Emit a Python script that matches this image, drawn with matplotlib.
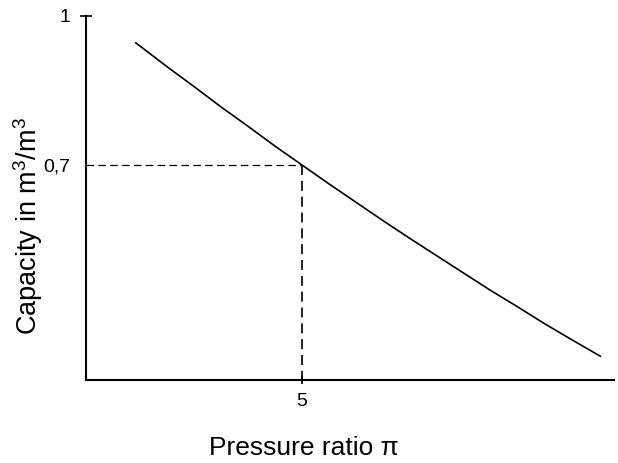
import matplotlib
matplotlib.use("Agg")
import matplotlib.pyplot as plt

# Data
pressure_ratio = [1.91, 2.5, 3.0, 3.5, 4.0, 4.5, 5.0, 5.5, 6.0, 6.5, 7.0, 7.5,
                  8.0, 8.5, 9.0, 9.5, 10.0, 10.54]
capacity = [0.947, 0.898, 0.858, 0.817, 0.778, 0.738, 0.700, 0.662, 0.625, 0.588,
            0.552, 0.517, 0.482, 0.447, 0.414, 0.380, 0.348, 0.314]
marked_x = 5.0
marked_y = 0.7
y_ticks = [0.7, 1.0]
y_tick_labels = ["0,7", "1"]
x_ticks = [5]
x_tick_labels = ["5"]

plt.rcParams['font.family'] = ['Liberation Sans', 'DejaVu Sans']
plt.rcParams['mathtext.fontset'] = 'custom'
plt.rcParams['mathtext.rm'] = 'Liberation Sans'
plt.rcParams['mathtext.it'] = 'Liberation Sans'
plt.rcParams['mathtext.default'] = 'regular'

W, H = 618, 463
fig = plt.figure(figsize=(W / 100, H / 100), dpi=100)
ax = fig.add_axes([86 / W, (H - 380) / H, (614 - 86) / W, (380 - 16) / H])

ax.plot(pressure_ratio, capacity, color='black', lw=1.2, solid_capstyle='butt')
ax.plot([1, marked_x], [marked_y, marked_y], color='black', lw=0.9, dashes=(6, 3.5))
ax.plot([marked_x, marked_x], [marked_y, 0.267], color='black', lw=1.2, dashes=(6, 3.5))

ax.set_xlim(1, 10.78)
ax.set_ylim(0.267, 1.0)

for s in ['top', 'right']:
    ax.spines[s].set_visible(False)
for s in ['left', 'bottom']:
    ax.spines[s].set_linewidth(1.5)

ax.set_xticks(x_ticks)
ax.set_xticklabels(x_tick_labels)
ax.set_yticks(y_ticks)
ax.set_yticklabels(y_tick_labels)
ax.tick_params(axis='both', direction='inout', length=9, width=1.2, labelsize=14)
ax.tick_params(axis='y', pad=7)
ax.tick_params(axis='x', length=6, pad=6)
# small tick at 0.7
ax.yaxis.get_major_ticks()[0].tick1line.set_markersize(2)

fig.text(304 / W, 1 - 448 / H, 'Pressure ratio π', ha='center', va='center', fontsize=19)
fig.text(28 / W, 1 - 226 / H, 'Capacity in m$^3$/m$^3$', ha='center', va='center',
         fontsize=19.5, rotation=90)

fig.savefig('out.png', dpi=100)
